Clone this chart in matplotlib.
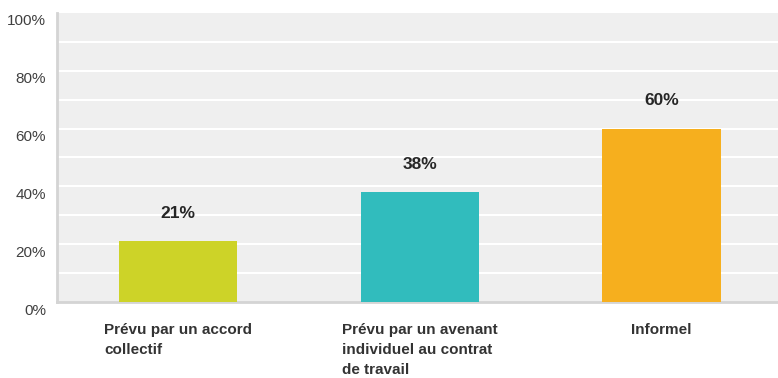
import matplotlib
matplotlib.use('Agg')
import matplotlib.pyplot as plt
import matplotlib.transforms as mtransforms
import numpy as np

plt.rcParams['font.family'] = ['Liberation Sans', 'DejaVu Sans']

categories = ['Prévu par un accord\ncollectif',
              'Prévu par un avenant\nindividuel au contrat\nde travail',
              'Informel']
values = [21, 38, 60]
colors = ['#cdd328', '#31bcbd', '#f6af1e']
yticks = [0, 20, 40, 60, 80, 100]
ytick_labels = ['0%', '20%', '40%', '60%', '80%', '100%']

fig = plt.figure(figsize=(7.78, 3.78), dpi=100)
ax = fig.add_axes([0.0735, 0.201, 0.932, 0.765])
ax.set_facecolor('#efefef')

x = np.arange(len(categories))
ax.bar(x, values, width=0.49, color=colors, zorder=3)

# gridlines every 10%
for g in range(10, 100, 10):
    ax.axhline(g, color='white', lw=1.5, zorder=1)

ax.set_xlim(-0.5, 2.5)
ax.set_ylim(0, 100)
ax.set_yticks(yticks)
ax.set_yticklabels(ytick_labels, fontsize=11, color='#404040')
ax.tick_params(axis='y', length=0, pad=8)
ax.set_xticks([])

# labels sit a bit below their gridlines in the original
offset = mtransforms.ScaledTranslation(0, -7 / 100, fig.dpi_scale_trans)
for lab in ax.get_yticklabels():
    lab.set_transform(lab.get_transform() + offset)

for s in ['top', 'right']:
    ax.spines[s].set_visible(False)
for s in ['left', 'bottom']:
    ax.spines[s].set_color('#d4d4d4')
    ax.spines[s].set_linewidth(2)

for xi, v in zip(x, values):
    ax.annotate(f'{v}%', (xi, v), xytext=(0, 20), textcoords='offset points',
                ha='center', va='center', fontsize=12.5, fontweight='bold',
                color='#262626')

for xi, c in zip(x, categories):
    ax.annotate(c, (xi, 0), xytext=(0, -15), textcoords='offset points',
                ha='center', va='top', multialignment='left',
                fontsize=11, fontweight='bold', color='#333333',
                linespacing=1.55, annotation_clip=False)

fig.savefig('out.png', dpi=100)
